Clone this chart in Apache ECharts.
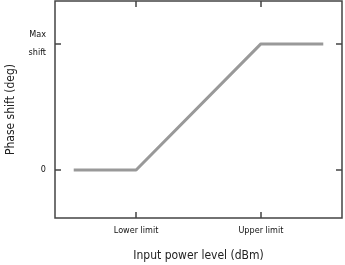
<!DOCTYPE html>
<html><head><meta charset="utf-8">
<script src="https://cdn.jsdelivr.net/npm/echarts@6/dist/echarts.min.js"></script>
<style>html,body{margin:0;padding:0;background:#fff}#c{width:345px;height:265px}</style>
</head><body><div id="c"></div>
<script>
// Data (arbitrary units: input power, phase shift normalized to max = 1)
const xValues = [0, 1, 3, 4];
const yValues = [0, 0, 1, 1];
const xTickValues = [1, 3];
const xTickLabels = {1: 'Lower limit', 3: 'Upper limit'};
const yTickValues = [0, 1];
const yTickLabels = {0: '0', 1: 'Max\nshift'};

const chart = echarts.init(document.getElementById('c'), null, {renderer: 'canvas'});
const tickFont = {fontFamily: 'DejaVu Sans Condensed', fontSize: 9, color: '#111'};
const titleFont = {fontFamily: 'DejaVu Sans Condensed', fontSize: 12, color: '#222'};
const lineCol = '#444';
const hiddenLine = {show: false, onZero: false};
chart.setOption({
  animation: false,
  grid: {left: 55, right: 3, top: 1, bottom: 47, outerBoundsMode: 'none', containLabel: false, show: true, borderColor: lineCol, borderWidth: 1.5, backgroundColor: 'transparent'},
  xAxis: [{
    type: 'value', min: -0.3, max: 4.3, position: 'bottom',
    name: 'Input power level (dBm)', nameLocation: 'middle', nameGap: 32, nameTextStyle: titleFont,
    axisLine: hiddenLine, splitLine: {show: false},
    axisTick: {show: true, inside: true, length: 6, customValues: xTickValues, lineStyle: {color: lineCol, width: 1.5}},
    axisLabel: Object.assign({customValues: xTickValues, margin: 8, formatter: v => xTickLabels[v] || ''}, tickFont)
  }, {
    type: 'value', min: -0.3, max: 4.3, position: 'top',
    axisLine: hiddenLine, splitLine: {show: false},
    axisTick: {show: true, inside: true, length: 6, customValues: xTickValues, lineStyle: {color: lineCol, width: 1.5}},
    axisLabel: {show: false}
  }],
  yAxis: [{
    type: 'value', min: -0.38, max: 1.34, position: 'left',
    name: 'Phase shift (deg)', nameLocation: 'middle', nameGap: 38, nameTextStyle: titleFont,
    axisLine: hiddenLine, splitLine: {show: false},
    axisTick: {show: true, inside: true, length: 6, customValues: yTickValues, lineStyle: {color: lineCol, width: 1.5}},
    axisLabel: Object.assign({customValues: yTickValues, margin: 9, lineHeight: 18, formatter: v => yTickLabels[v] || ''}, tickFont)
  }, {
    type: 'value', min: -0.38, max: 1.34, position: 'right',
    axisLine: hiddenLine, splitLine: {show: false},
    axisTick: {show: true, inside: true, length: 6, customValues: yTickValues, lineStyle: {color: lineCol, width: 1.5}},
    axisLabel: {show: false}
  }],
  series: [{
    type: 'line', xAxisIndex: 0, yAxisIndex: 0,
    data: xValues.map((x, i) => [x, yValues[i]]),
    symbol: 'none', lineStyle: {color: '#999', width: 3}
  }]
});
</script></body></html>
